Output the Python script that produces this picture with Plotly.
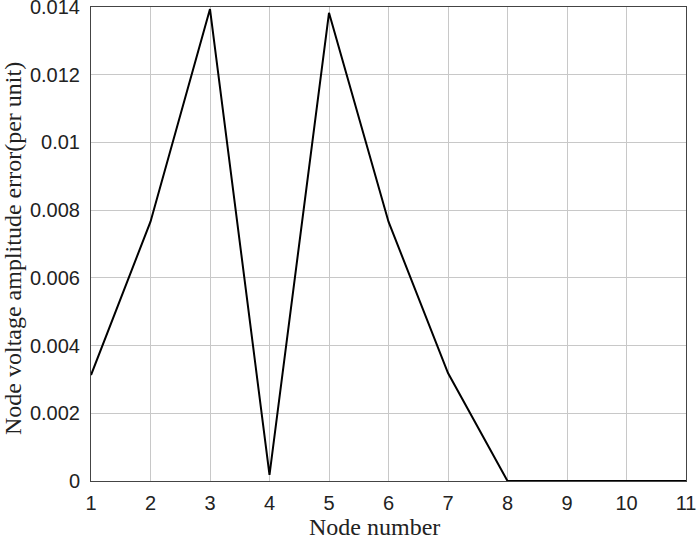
import plotly.graph_objects as go

nodes = [1, 2, 3, 4, 5, 6, 7, 8, 9, 10, 11]
errors = [0.00313, 0.00766, 0.01394, 0.00018, 0.01383, 0.00766, 0.00319, 0.0, 0.0, 0.0, 0.0]
y_ticks = [0, 0.002, 0.004, 0.006, 0.008, 0.01, 0.012, 0.014]
y_tick_text = ["0", "0.002", "0.004", "0.006", "0.008", "0.01", "0.012", "0.014"]
x_title = "Node number"
y_title = "Node voltage amplitude error(per unit)"

fig = go.Figure()
fig.add_trace(go.Scatter(x=nodes, y=errors, mode="lines",
                         line=dict(color="black", width=2), showlegend=False))

fig.update_layout(
    width=699, height=540,
    margin=dict(l=91, r=13, t=7, b=59, autoexpand=False),
    paper_bgcolor="white", plot_bgcolor="white",
    font=dict(family="Liberation Sans", size=20, color="#222222"),
)
fig.update_xaxes(
    range=[1, 11], tickvals=nodes, showgrid=True, gridcolor="#c8c8c8", gridwidth=1,
    showline=True, linecolor="#444444", linewidth=1, mirror=True, zeroline=False,
    ticks="", ticklabelstandoff=4, automargin=False, ticklabeloverflow="allow",
)
fig.update_yaxes(
    range=[0, 0.0140001], tickvals=y_ticks, ticktext=y_tick_text, showgrid=True,
    gridcolor="#c8c8c8", gridwidth=1,
    showline=True, linecolor="#444444", linewidth=1, mirror=True, zeroline=False,
    ticks="", ticklabelstandoff=6, automargin=False, ticklabeloverflow="allow",
)
fig.add_annotation(text=x_title, xref="paper", yref="paper", x=(374 - 91) / 595, y=-(527 - 481) / 474,
                   showarrow=False, xanchor="center", yanchor="middle",
                   font=dict(family="Liberation Serif", size=24, color="#222222"))
fig.add_annotation(text=y_title, xref="paper", yref="paper", x=-(91 - 13) / 595, y=(481 - 249) / 474,
                   showarrow=False, xanchor="center", yanchor="middle", textangle=-90,
                   font=dict(family="Liberation Serif", size=24, color="#222222"))

fig.write_html("out.html", config={"displayModeBar": False},
               post_script="document.body.style.margin='0';")
